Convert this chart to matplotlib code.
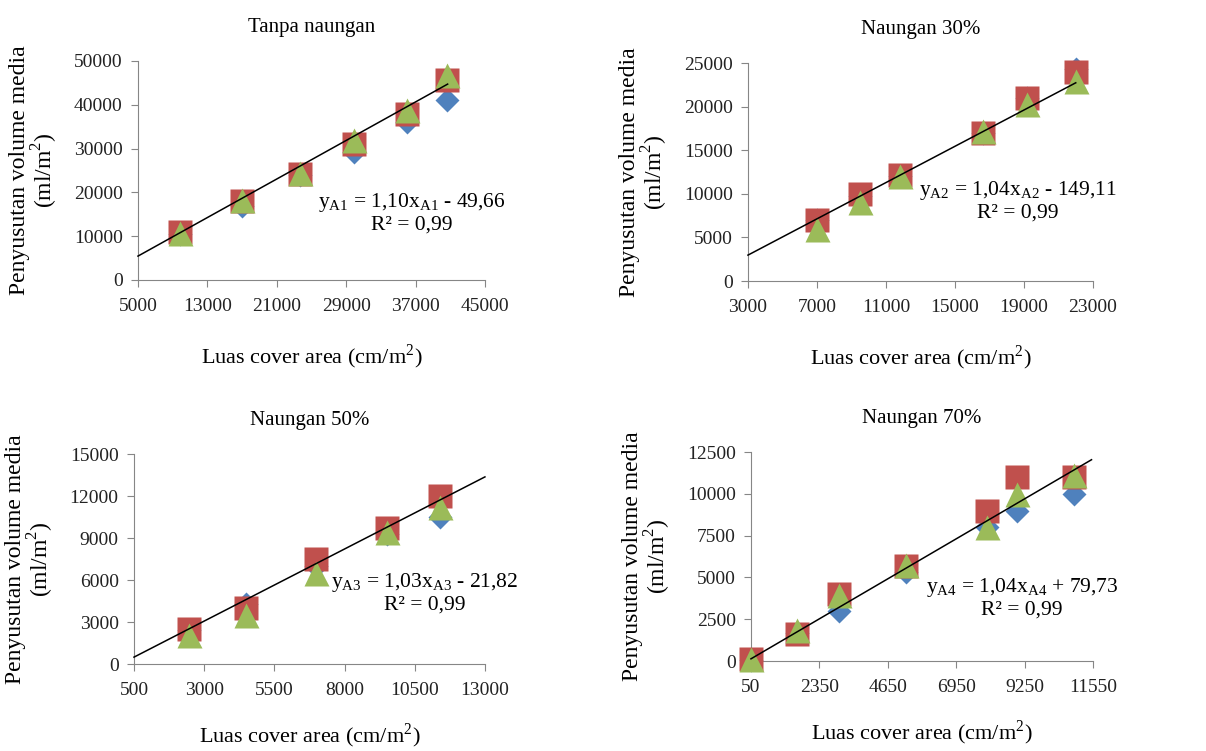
import numpy as np
import matplotlib.pyplot as plt

plt.rcParams['font.family'] = 'serif'
plt.rcParams['font.serif'] = ['Liberation Serif', 'Times New Roman', 'DejaVu Serif']
plt.rcParams['mathtext.fontset'] = 'custom'
plt.rcParams['mathtext.rm'] = 'Liberation Serif'

# data per panel: x (cover area), three series (diamond, square, triangle)
titles = ["Tanpa naungan", "Naungan 30%", "Naungan 50%", "Naungan 70%"]

x_a1 = [9800, 17000, 23700, 29900, 36000, 40600]
blue_a1 = [10500, 16800, 24000, 29300, 36100, 41100]
red_a1 = [11000, 18000, 24100, 31000, 38000, 45700]
green_a1 = [10800, 18300, 24500, 32000, 38800, 46800]

x_a2 = [7000, 9500, 11800, 16650, 19200, 22000]
blue_a2 = [7000, 9700, 12000, 17000, 21000, 24300]
red_a2 = [7000, 10000, 12200, 17000, 21000, 24000]
green_a2 = [6000, 9100, 12000, 17200, 20300, 22900]

x_a3 = [2450, 4500, 7000, 9500, 11400]
blue_a3 = [2400, 4300, 7000, 9300, 10500]
red_a3 = [2500, 4000, 7500, 9700, 12000]
green_a3 = [2100, 3500, 6500, 9400, 11200]

x_a4 = [50, 1600, 3000, 5250, 8000, 9000, 10900]
blue_a4 = [50, 1650, 3000, 5300, 8000, 9000, 10000]
red_a4 = [100, 1600, 4000, 5700, 9000, 11000, 11000]
green_a4 = [100, 1850, 3950, 5750, 8000, 10000, 11100]

# trendline: slope, intercept, x range
slopes = [1.10, 1.04, 1.03, 1.04]
intercepts = [-49.66, -149.11, -21.82, 79.73]
line_x = [(5000, 40700), (3000, 22000), (500, 13000), (50, 11500)]
eq_texts = [
    r"$\mathregular{y_{A1}}$ = 1,10x$\mathregular{_{A1}}$ - 49,66" + "\nR² = 0,99",
    r"$\mathregular{y_{A2}}$ = 1,04x$\mathregular{_{A2}}$ - 149,11" + "\nR² = 0,99",
    r"$\mathregular{y_{A3}}$ = 1,03x$\mathregular{_{A3}}$ - 21,82" + "\nR² = 0,99",
    r"$\mathregular{y_{A4}}$ = 1,04x$\mathregular{_{A4}}$ + 79,73" + "\nR² = 0,99",
]
eq_pos = [(0.79, 0.306), (0.783, 0.37), (0.829, 0.34), (0.792, 0.304)]

xticks = [np.arange(5000, 45001, 8000), np.arange(3000, 23001, 4000),
          np.arange(500, 13001, 2500), np.arange(50, 11551, 2300)]
yticks = [np.arange(0, 50001, 10000), np.arange(0, 25001, 5000),
          np.arange(0, 15001, 3000), np.arange(0, 12501, 2500)]

xs = [x_a1, x_a2, x_a3, x_a4]
blues = [blue_a1, blue_a2, blue_a3, blue_a4]
reds = [red_a1, red_a2, red_a3, red_a4]
greens = [green_a1, green_a2, green_a3, green_a4]

positions = [
    [0.1144, 0.6272, 0.2877, 0.2916],
    [0.6202, 0.6258, 0.2861, 0.2903],
    [0.1111, 0.1158, 0.2910, 0.2796],
    [0.6227, 0.1198, 0.2836, 0.2783],
]
xlabel_pads = [20, 20, 16, 16]

fig = plt.figure(figsize=(12.06, 7.51), dpi=100)

for i in range(4):
    ax = fig.add_axes(positions[i])
    ax.plot(xs[i], blues[i], 'D', color='#4F81BD', ms=12, mec='none', clip_on=False, zorder=3)
    ax.plot(xs[i], reds[i], 's', color='#C0504D', ms=17, mec='none', clip_on=False, zorder=4)
    ax.plot(xs[i], greens[i], '^', color='#9BBB59', ms=18, mec='none', clip_on=False, zorder=5)
    lx = np.array(line_x[i])
    ax.plot(lx, slopes[i] * lx + intercepts[i], color='black', lw=1.1, zorder=6, clip_on=False)

    ax.set_xlim(xticks[i][0], xticks[i][-1])
    ax.set_ylim(yticks[i][0], yticks[i][-1])
    ax.set_xticks(xticks[i])
    ax.set_yticks(yticks[i])
    ax.tick_params(labelsize=14, length=5, color='#868686', labelcolor='#222222')
    ax.tick_params(axis='x', pad=8)
    ax.tick_params(axis='y', pad=6)
    for s in ['top', 'right']:
        ax.spines[s].set_visible(False)
    for s in ['left', 'bottom']:
        ax.spines[s].set_color('#868686')
    ax.set_title(titles[i], fontsize=15, pad=21)
    ax.set_xlabel("Luas cover area (cm/m$^2$)", fontsize=16, labelpad=xlabel_pads[i])
    ax.set_ylabel("Penyusutan volume media\n(ml/m$^2$)", fontsize=17, labelpad=10, linespacing=1.0)
    ax.text(eq_pos[i][0], eq_pos[i][1], eq_texts[i], transform=ax.transAxes,
            ha='center', va='center', fontsize=15.5, linespacing=1.1, zorder=7)

fig.savefig("out.png", dpi=100)
